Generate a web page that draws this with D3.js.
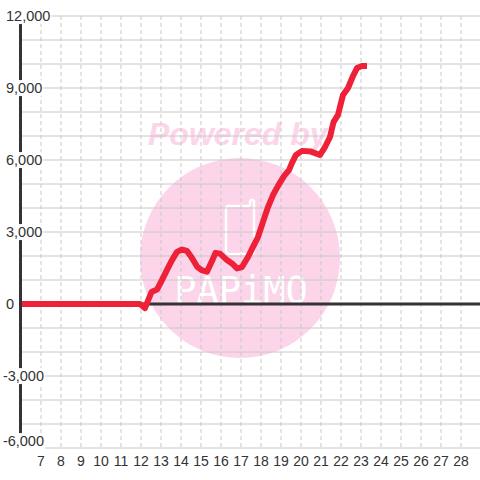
<!DOCTYPE html>
<html>
<head>
<meta charset="utf-8">
<script src="https://cdn.jsdelivr.net/npm/d3@7/dist/d3.min.js"></script>
<style>
  html, body { margin: 0; padding: 0; background: #fff; }
  #chart { width: 480px; height: 480px; }
</style>
</head>
<body>
<div id="chart"></div>
<script>
// data
var xValues = [6, 11.95, 12.2, 12.525, 12.8, 13.05, 13.3, 13.55, 13.8, 14.05, 14.3, 14.55, 14.8, 15.05, 15.3, 15.55,
               15.725, 15.95, 16.3, 16.55, 16.8, 17.05, 17.35, 17.6, 17.85, 18.1, 18.35, 18.6, 18.85, 19.15,
               19.4, 19.55, 19.75, 20.05, 20.5, 20.95, 21.2, 21.45, 21.625, 21.85, 22.1, 22.35, 22.6, 22.8,
               23.05, 23.3];
var yValues = [0, 0, -170, 500, 600, 1000, 1420, 1830, 2170, 2270, 2210, 1920, 1560, 1400, 1350, 1790,
               2130, 2100, 1830, 1690, 1480, 1540, 1960, 2380, 2790, 3420, 4040, 4540, 4920, 5330,
               5580, 5880, 6210, 6380, 6350, 6210, 6540, 6960, 7580, 7880, 8710, 9000, 9500, 9830,
               9920, 9920];
var xTicks = d3.range(7, 29);
var yLabelTicks = [12000, 9000, 6000, 3000, 0, -3000, -6000];
var yGridTicks = d3.range(-6000, 12001, 1000);

var lineData = xValues.map(function (d, i) { return { x: d, y: yValues[i] }; });

var width = 480, height = 480;
var axisX = 20.5;

var svg = d3.select('#chart').append('svg')
  .attr('width', width)
  .attr('height', height)
  .attr('viewBox', '0 0 ' + width + ' ' + height);

var xScale = d3.scaleLinear().domain([7, 28]).range([41, 461]);
var yScale = d3.scaleLinear().domain([-6000, 12000]).range([448, 16]);

// watermark
var mark = svg.append('g').attr('id', 'watermark');
mark.append('circle')
  .attr('cx', 240).attr('cy', 258).attr('r', 100)
  .attr('fill', '#fcd5ea');
mark.append('text')
  .attr('x', 148).attr('y', 145)
  .attr('font-family', 'Liberation Sans, Arial, sans-serif')
  .attr('font-weight', 'bold')
  .attr('font-style', 'italic')
  .attr('font-size', 32)
  .attr('fill', '#fcd5ea')
  .text('Powered by');
mark.append('path')
  .attr('d', 'M229,206 H250 M254,200 V251 Q254,254 251,254 H229 Q226,254 226,251 V209 Q226,206 229,206 M250,206 V202 Q250,200 252,200 H254')
  .attr('fill', 'none')
  .attr('stroke', '#fff')
  .attr('stroke-width', 2.5);
mark.append('text')
  .attr('x', 241).attr('y', 303)
  .attr('text-anchor', 'middle')
  .attr('font-family', 'DejaVu Sans Mono, monospace')
  .attr('font-size', 37)
  .attr('fill', '#fff')
  .text('PAPiMO');

// grid
svg.append('g').attr('id', 'ygrid')
  .selectAll('line')
  .data(yGridTicks)
  .join('line')
  .attr('x1', axisX).attr('x2', width)
  .attr('y1', d => yScale(d)).attr('y2', d => yScale(d))
  .attr('stroke', '#c8c8c8')
  .attr('stroke-width', 1);

svg.append('g').attr('id', 'xgrid')
  .selectAll('line')
  .data(xTicks)
  .join('line')
  .attr('x1', d => xScale(d)).attr('x2', d => xScale(d))
  .attr('y1', yScale(12000)).attr('y2', yScale(-6000))
  .attr('stroke', '#c8c8c8')
  .attr('stroke-width', 1)
  .attr('stroke-dasharray', '4,3');

// zero line
svg.append('line')
  .attr('x1', axisX).attr('x2', width)
  .attr('y1', yScale(0)).attr('y2', yScale(0))
  .attr('stroke', '#333')
  .attr('stroke-width', 3);

// series
var line = d3.line()
  .x(d => xScale(d.x))
  .y(d => yScale(d.y));

svg.append('path')
  .datum(lineData)
  .attr('d', line)
  .attr('fill', 'none')
  .attr('stroke', '#ee2139')
  .attr('stroke-width', 6)
  .attr('stroke-linejoin', 'round');

// y axis
svg.append('line')
  .attr('x1', axisX).attr('x2', axisX)
  .attr('y1', yScale(12000)).attr('y2', yScale(-6000))
  .attr('stroke', '#333')
  .attr('stroke-width', 3);

var yLab = svg.append('g').attr('id', 'ylabels')
  .selectAll('g')
  .data(yLabelTicks)
  .join('g');

yLab.append('text')
  .attr('x', d => d < 0 ? 44 : 6)
  .attr('y', d => Math.min(yScale(d), 441))
  .attr('dy', '0.35em')
  .attr('text-anchor', d => d < 0 ? 'end' : 'start')
  .attr('font-family', 'Liberation Sans, Arial, sans-serif')
  .attr('font-size', 14.5)
  .attr('fill', '#333')
  .text(d => d3.format(',')(d).replace('\u2212', '-'));

// white box behind labels
yLab.each(function () {
  var t = d3.select(this).select('text');
  var b = t.node().getBBox();
  d3.select(this).insert('rect', 'text')
    .attr('x', b.x - 1).attr('y', b.y)
    .attr('width', b.width + 2).attr('height', b.height)
    .attr('fill', '#fff');
});

svg.append('g').attr('id', 'xlabels')
  .selectAll('text')
  .data(xTicks)
  .join('text')
  .attr('x', d => xScale(d))
  .attr('y', 466)
  .attr('text-anchor', 'middle')
  .attr('font-family', 'Liberation Sans, Arial, sans-serif')
  .attr('font-size', 14)
  .attr('fill', '#333')
  .text(d => d);
</script>
</body>
</html>
